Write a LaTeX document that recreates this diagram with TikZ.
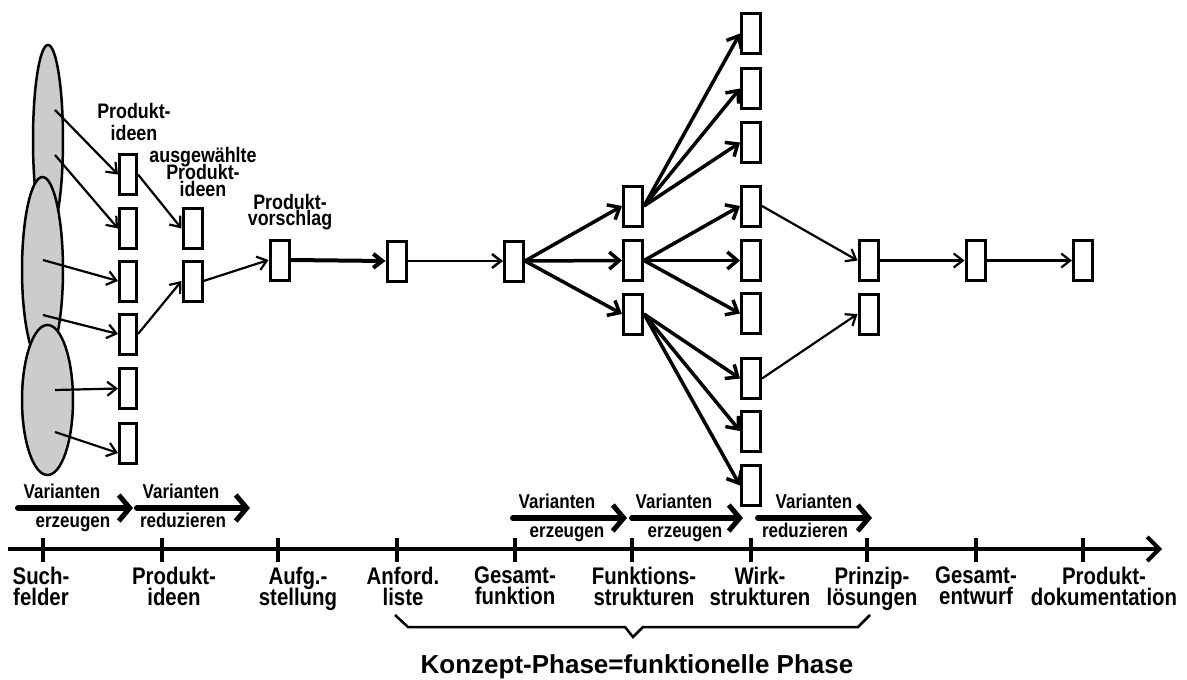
\documentclass[tikz,border=0pt]{standalone}
\usepackage{fontspec}
\setmainfont{Liberation Sans}
\newfontfamily\narrowsans[FakeStretch=0.85]{Liberation Sans}
\usetikzlibrary{arrows.meta}

\begin{document}
\begin{tikzpicture}[x=1pt, y=-1pt,
  box/.style={draw, line width=3pt, fill=white, minimum width=19pt, minimum height=40pt, inner sep=0pt},
  lnk/.style={line width=2.2pt, -{Straight Barb[length=9pt,width=14pt]}},
  fan/.style={line width=3.5pt, -{Straight Barb[length=10pt,width=17pt]}},
  field/.style={draw, line width=2.5pt, fill=gray!40},
  toplbl/.style={font=\narrowsans\bfseries\fontsize{21}{#1}\selectfont\setlength{\lineskiplimit}{-50pt}, align=center, inner sep=0pt},
  axlbl/.style={font=\narrowsans\bfseries\fontsize{24}{20.5}\selectfont\setlength{\lineskiplimit}{-50pt}, align=center, inner sep=0pt, anchor=north},
  axtick/.style={line width=3.5pt},
  vartxt/.style={font=\narrowsans\bfseries\fontsize{20}{20}\selectfont, inner sep=0pt, anchor=base},
  vararrow/.style={line width=6pt, line cap=round, -{Straight Barb[length=11pt,width=26pt,line width=5pt]}}]
\useasboundingbox (0,0) rectangle (1187,680);
% Suchfelder (left)
\draw[field] (48,140) ellipse [x radius=15, y radius=95];
\draw[field] (42.5,270) ellipse [x radius=20.5, y radius=93];
\draw[field] (47.5,400) ellipse [x radius=25.5, y radius=75];
% Boxes
\foreach \i/\y in {1/174.5,2/228.5,3/281,4/334,5/388.5,6/443}
  \node[box, minimum width=17pt] (pi\i) at (128,\y) {};
\node[box] (a1) at (192.5,228.5) {};
\node[box] (a2) at (192.5,281) {};
\node[box] (vs) at (279.5,260) {};
\node[box] (an) at (396.5,261) {};
\node[box] (ge) at (514,261) {};
\foreach \i/\y in {1/206,2/260.5,3/314}
  \node[box] (f\i) at (633,\y) {};
\foreach \i/\y in {1/33.5,2/88.5,3/142.5,4/206,5/260.5,6/313.5,7/378.5,8/431,9/485.5}
  \node[box] (w\i) at (751,\y) {};
\node[box] (p1) at (868.5,260.5) {};
\node[box] (p2) at (868.5,314) {};
\node[box] (ent) at (975.5,260.5) {};
\node[box] (dok) at (1083,260.5) {};
% Box labels
\node[toplbl=22] (lideen) at (134,122) {Produkt-\\ideen};
\node[toplbl=17] (lausg) at (203,172) {ausgewählte\\Produkt-\\ideen};
\node[toplbl=16] (lvor) at (290,212) {Produkt-\\vorschlag};
% Arrows from the fields
\foreach \i/\sx/\sy in {1/55/110,2/55/155,3/43/260,4/43/315,5/55/390,6/55/432}
  \coordinate (src\i) at (\sx,\sy);
\foreach \i in {1,...,5}
  \draw[lnk] (src\i) -- (pi\i.west);
\draw[lnk] (src6) -- ([yshift=-10pt]pi6.west);
\draw[lnk] (pi1.east) -- (a1.west);
\draw[lnk] (pi4.east) -- (a2.west);
\draw[lnk] (a2.east) -- (vs.west);
\draw[lnk, line width=4pt] (vs.east) -- (an.west);
\draw[lnk, line width=2.5pt] (an.east) -- (ge.west);
% Fan out
\foreach \i in {1,2,3}
  \draw[fan] (ge.east) -- (f\i.west);
\foreach \i in {1,2,3}
  \draw[fan] (f1.east) -- (w\i.west);
\foreach \i in {4,5,6}
  \draw[fan] (f2.east) -- (w\i.west);
\foreach \i in {7,8,9}
  \draw[fan] (f3.east) -- (w\i.west);
% Reduce
\draw[lnk] (w4.east) -- (p1.west);
\draw[lnk] (w7.east) -- (p2.west);
\draw[lnk] (p1.east) -- (ent.west);
\draw[lnk] (ent.east) -- (dok.west);
% Varianten arrows
\foreach \i/\xa/\xb/\y/\xt/\xl/\lo in {1/18/133/508/62/73/erzeugen, 2/137/250/508/181/183/reduzieren,
    3/513/627/518/557/567/erzeugen, 4/632/743/518/674/685/erzeugen, 5/758/872/518/814/805/reduzieren} {
  \coordinate (va\i) at (\xa,\y);
  \coordinate (vb\i) at (\xb,\y);
  \draw[vararrow] (va\i) -- (vb\i);
  \node[vartxt] (vt\i) at (\xt,\y-10) {Varianten};
  \node[vartxt] (vl\i) at (\xl,\y+19) {\lo};
}
% Axis
\coordinate (ax0) at (8,549);
\coordinate (ax1) at (1162,549);
\draw[line width=4pt, -{Straight Barb[length=12pt,width=24pt]}] (ax0) -- (ax1);
\foreach \x/\lx/\txt [count=\n] in {43/41/Such-\\felder, 162/174/Produkt-\\ideen, 278/298/Aufg.-\\stellung,
    397/403/Anford.\\liste, 515/515/Gesamt-\\funktion, 632/644/Funktions-\\strukturen,
    751/760/Wirk-\\strukturen, 867/872/Prinzip-\\lösungen, 976/976/Gesamt-\\entwurf,
    1083/1104/Produkt-\\dokumentation} {
  \draw[axtick] (\x,538) -- (\x,562);
  \node[axlbl] (st\n) at (\lx,567) {\txt};
}
% Brace
\draw[line width=2.5pt] (395,615) -- (408,627) -- (625,627) -- (633,637) -- (643,627) -- (858,627) -- (870,615);
\node[font=\bfseries\fontsize{26}{26}\selectfont, inner sep=0pt, anchor=base] (phase) at (637,673) {Konzept-Phase=funktionelle Phase};
\end{tikzpicture}
\end{document}
